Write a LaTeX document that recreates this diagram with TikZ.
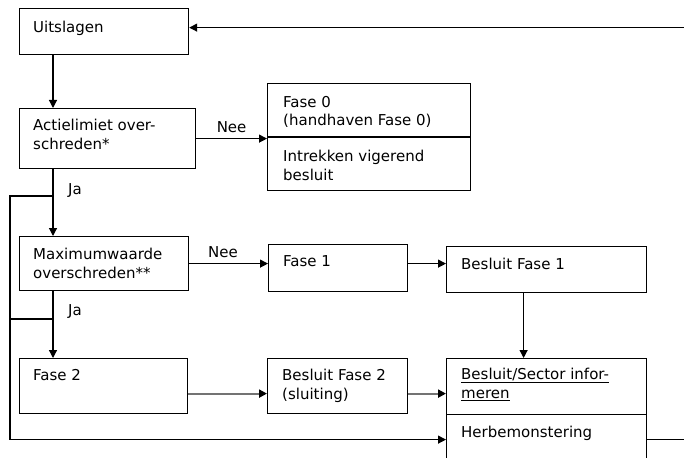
\documentclass[tikz,border=0pt]{standalone}
\usepackage{fontspec}
\setmainfont{DejaVu Sans}
\usetikzlibrary{arrows.meta,calc}
\begin{document}
\begin{tikzpicture}[x=1pt,y=-1pt,
		box/.style={draw,line width=1.2pt,anchor=north west,inner sep=0pt},
		txt/.style={anchor=north west,align=left,inner sep=0pt,font=\fontsize{15}{18.5}\selectfont},
		lbl/.style={inner sep=0pt,font=\fontsize{15}{18.5}\selectfont},
		arr/.style={line width=1.2pt,-{Triangle[length=8pt,width=8pt]}},
		grr/.style={line width=2.2pt,draw=black!55,-{Triangle[length=8pt,width=8pt,color=black]}}]
		\useasboundingbox (0,0) rectangle (684,457);
		\clip (0,0) rectangle (684,457);
		% boxes
		\node[box,minimum width=169,minimum height=46] (uit) at (19,8) {};
		\node[box,minimum width=176,minimum height=60] (act) at (19,108) {};
		\node[box,minimum width=203,minimum height=107] (fase0) at (267,83) {};
		\node[box,minimum width=169,minimum height=54] (max) at (19,236) {};
		\node[box,minimum width=139,minimum height=47] (fase1) at (268,244) {};
		\node[box,minimum width=200,minimum height=46] (bes1) at (446,246) {};
		\node[box,minimum width=168,minimum height=55] (fase2) at (19,358) {};
		\node[box,minimum width=140,minimum height=55] (bes2) at (267,358) {};
		\node[box,minimum width=200,minimum height=56] (inf) at (446,358) {};
		\node[box,minimum width=200,minimum height=50] (herb) at (446,414) {};
		\draw[line width=1.2pt] (fase0.west) -- (fase0.east);
		% texts
		\node[txt] at ($(uit.north west)+(14,13)$) {Uitslagen};
		\node[txt] at ($(act.north west)+(14,11)$) {Actielimiet over-\\schreden*};
		\node[txt] at ($(fase0.north west)+(16,13)$) {Fase 0\\(handhaven Fase 0)};
		\node[txt] at ($(fase0.west)+(16,13)$) {Intrekken vigerend\\besluit};
		\node[txt] at ($(max.north west)+(14,12)$) {Maximumwaarde\\overschreden**};
		\node[txt] at ($(fase1.north west)+(15,11)$) {Fase 1};
		\node[txt] at ($(bes1.north west)+(15,12)$) {Besluit Fase 1};
		\node[txt] at ($(fase2.north west)+(14,11)$) {Fase 2};
		\node[txt] at ($(bes2.north west)+(15,11)$) {Besluit Fase 2\\(sluiting)};
		\node[txt] at ($(inf.north west)+(15,10)$) {\underline{Besluit/Sector infor-}\\\underline{meren}};
		\node[txt] at ($(herb.north west)+(15,12)$) {Herbemonstering};
		% connectors
		\coordinate (sp) at (53,0);
		\coordinate (lft) at (10,0);
		\coordinate (rt) at (720,0);
		\coordinate (j1) at (53,196);
		\coordinate (j2) at (53,319);
		\draw[arr] (herb.east) -- (rt |- herb.east) |- ([yshift=4pt]uit.east);
		\draw[arr] (uit.south -| sp) -- (act.north -| sp);
		\draw[arr] (act.east) -- (act.east -| fase0.west) node[lbl,midway,above=5pt] {Nee};
		\draw[arr] (act.south -| sp) -- (max.north -| sp);
		\node[lbl,anchor=north west] (ja1) at ($(act.south -| sp)+(15,14)$) {Ja};
		\draw[arr] (j1) -| (lft |- herb.west) -- (herb.west);
		\draw[arr] (max.east) -- (max.east -| fase1.west) node[lbl,pos=0.43,above=5pt] {Nee};
		\draw[arr] (fase1.east |- max.east) -- (bes1.west |- max.east);
		\draw[arr] ([xshift=-23pt]bes1.south) -- ([xshift=-23pt]inf.north);
		\draw[arr] (max.south -| sp) -- (fase2.north -| sp);
		\node[lbl,anchor=north west] (ja2) at ($(max.south -| sp)+(15,13)$) {Ja};
		\draw[line width=1.2pt] (j2) -- (j2 -| lft);
		\draw[grr] ([yshift=-7.5pt]fase2.east) -- ([yshift=-7.5pt]fase2.east -| bes2.west);
		\draw[grr] ([yshift=-7.5pt]bes2.east) -- ([yshift=-7.5pt]bes2.east -| inf.west);
	\end{tikzpicture}
\end{document}
